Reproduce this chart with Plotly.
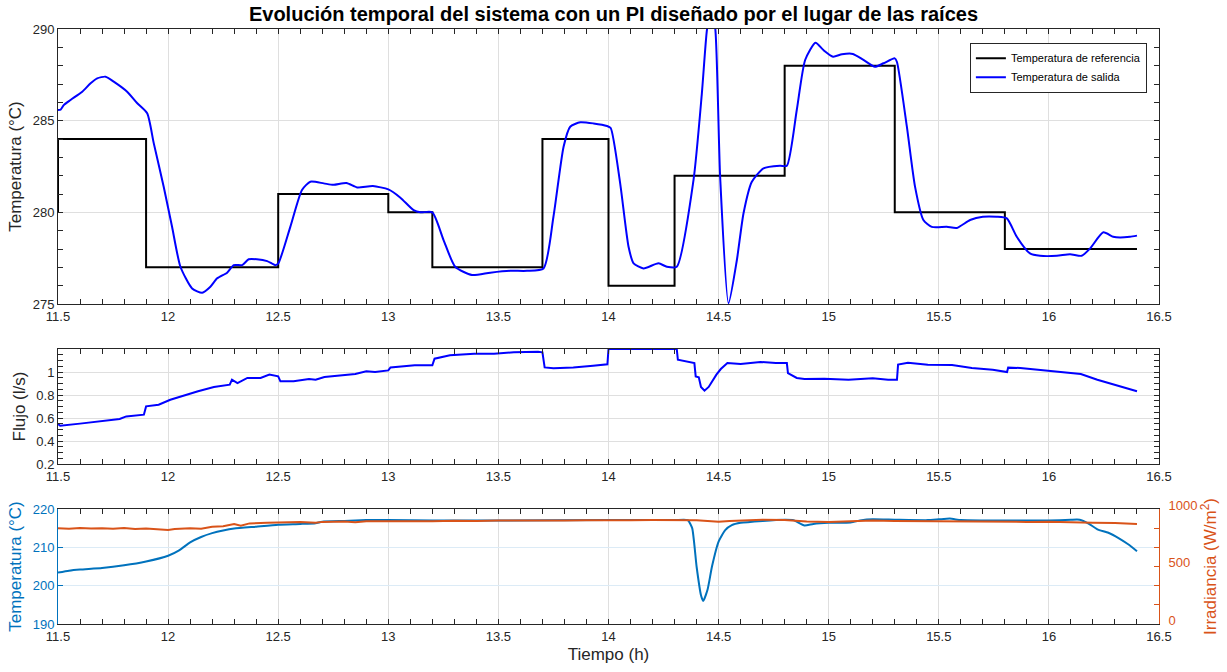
import plotly.graph_objects as go
from plotly.subplots import make_subplots

# ---------------- data ----------------
# Reference temperature (step changes)
ref_t = [11.5, 11.5, 11.9, 12.5, 13.0, 13.2, 13.7, 14.0, 14.3, 14.8, 15.3, 15.8, 16.4]
ref_T = [280, 284, 277, 281, 280, 277, 284, 276, 282, 288, 280, 278, 278]

# Output temperature
out_t = [11.5, 11.512, 11.526, 11.557, 11.61, 11.648, 11.678, 11.716, 11.753, 11.814, 11.86, 11.905,
         11.935, 11.98, 12.018, 12.056, 12.109, 12.155, 12.192, 12.223, 12.268, 12.298, 12.336, 12.366,
         12.403, 12.45, 12.487, 12.5, 12.555, 12.608, 12.646, 12.707, 12.75, 12.81, 12.858, 12.93,
         13.0, 13.055, 13.115, 13.146, 13.2, 13.251, 13.304, 13.38, 13.463, 13.554, 13.63, 13.705,
         13.75, 13.796, 13.826, 13.872, 13.932, 13.993, 14.01, 14.053, 14.091, 14.114, 14.159, 14.227,
         14.265, 14.31, 14.386, 14.424, 14.447, 14.466, 14.485, 14.507, 14.545, 14.583, 14.613, 14.651,
         14.704, 14.78, 14.81, 14.855, 14.893, 14.94, 14.976, 15.02, 15.06, 15.11, 15.158, 15.21,
         15.249, 15.3, 15.31, 15.355, 15.392, 15.43, 15.468, 15.536, 15.582, 15.642, 15.7, 15.763,
         15.809, 15.854, 15.914, 15.96, 16.036, 16.096, 16.149, 16.187, 16.247, 16.292, 16.323, 16.368, 16.4]
out_T = [285.58, 285.6, 285.85, 286.13, 286.58, 287.04, 287.31, 287.4, 287.13, 286.58, 285.95, 285.4,
         283.76, 281.4, 279.21, 277.03, 275.85, 275.61, 275.94, 276.4, 276.71, 277.12, 277.12, 277.44,
         277.44, 277.34, 277.12, 277.2, 279.21, 281.22, 281.67, 281.58, 281.5, 281.6, 281.36, 281.43,
         281.25, 280.8, 280.12, 280.0, 280.0, 278.49, 277.03, 276.58, 276.71, 276.81, 276.81, 276.94,
         279.76, 283.58, 284.67, 284.91, 284.85, 284.71, 284.6, 281.58, 278.12, 277.22, 276.94, 277.22,
         277.03, 277.03, 281.76, 286.49, 289.95, 291.2, 290.0, 281.94, 275.04, 277.4, 279.94, 281.67,
         282.4, 282.54, 282.54, 285.58, 288.31, 289.25, 288.85, 288.49, 288.62, 288.64, 288.31, 287.94,
         288.13, 288.4, 288.2, 284.67, 281.4, 279.58, 279.21, 279.21, 279.15, 279.58, 279.76, 279.76,
         279.67, 278.67, 277.76, 277.63, 277.63, 277.72, 277.63, 278.03, 278.91, 278.67, 278.63, 278.67, 278.73]

# Flow
flow_t = [11.5, 11.51, 11.6, 11.69, 11.78, 11.81, 11.89, 11.9, 11.957, 12.01, 12.08, 12.136, 12.208,
          12.28, 12.29, 12.315, 12.36, 12.42, 12.46, 12.5, 12.51, 12.57, 12.64, 12.67, 12.71, 12.8,
          12.85, 12.9, 12.94, 13.0, 13.01, 13.12, 13.2, 13.21, 13.28, 13.39, 13.48, 13.57, 13.68,
          13.70, 13.71, 13.75, 13.84, 13.93, 13.995, 14.0, 14.31, 14.315, 14.37, 14.39, 14.396, 14.41,
          14.42, 14.436, 14.455, 14.47, 14.49, 14.51, 14.54, 14.6, 14.69, 14.76, 14.81, 14.815,
          14.855, 14.89, 14.98, 15.09, 15.2, 15.27, 15.31, 15.315, 15.36, 15.45, 15.56, 15.65,
          15.745, 15.81, 15.815, 15.87, 16.02, 16.07, 16.145, 16.22, 16.29, 16.4]
flow_q = [0.548, 0.533, 0.551, 0.571, 0.591, 0.614, 0.629, 0.701, 0.716, 0.759, 0.803, 0.832, 0.870,
          0.89, 0.933, 0.904, 0.948, 0.948, 0.977, 0.962, 0.919, 0.919, 0.939, 0.933, 0.957, 0.977,
          0.983, 1.006, 1.0, 1.014, 1.04, 1.058, 1.058, 1.116, 1.145, 1.159, 1.159, 1.171, 1.177,
          1.171, 1.04, 1.032, 1.04, 1.055, 1.067, 1.2, 1.2, 1.107, 1.084, 1.078, 0.962, 0.954,
          0.87, 0.838, 0.87, 0.919, 0.977, 1.026, 1.078, 1.07, 1.087, 1.078, 1.078, 0.991,
          0.948, 0.939, 0.942, 0.933, 0.945, 0.933, 0.933, 1.064, 1.081, 1.064, 1.061, 1.035,
          1.02, 1.0, 1.038, 1.035, 1.006, 0.991, 0.983, 0.933, 0.896, 0.832]

# Collector outlet temperature (left axis, bottom panel)
temp_t = [11.5, 11.55, 11.6, 11.7, 11.8, 11.9, 12.0, 12.05, 12.1, 12.15, 12.2, 12.25, 12.3, 12.4, 12.5,
          12.6, 12.67, 12.7, 12.8, 12.9, 13.0, 13.2, 13.5, 14.0, 14.3, 14.36, 14.38, 14.4, 14.42,
          14.43, 14.45, 14.47, 14.5, 14.53, 14.56, 14.6, 14.7, 14.8, 14.84, 14.89, 14.93, 15.0, 15.1,
          15.15, 15.2, 15.3, 15.45, 15.5, 15.55, 15.6, 15.7, 15.9, 16.0, 16.1, 16.14, 16.18, 16.22,
          16.27, 16.32, 16.36, 16.4]
temp_v = [203.4, 203.9, 204.2, 204.6, 205.3, 206.3, 207.8, 209.2, 211.3, 212.7, 213.7, 214.4, 214.9,
          215.4, 215.9, 216.1, 216.3, 216.7, 216.9, 217.1, 217.1, 217.0, 217.0, 217.1, 217.1, 217.1,
          215.0, 205.0, 197.5, 196.0, 199.0, 205.0, 211.5, 214.5, 215.8, 216.4, 216.9, 217.2, 217.1,
          215.7, 216.1, 216.4, 216.5, 217.1, 217.3, 217.2, 217.1, 217.3, 217.5, 217.1, 217.0, 217.0,
          217.0, 217.2, 217.2, 216.2, 214.7, 213.8, 212.3, 210.8, 209.0]

# Irradiance (right axis, bottom panel)
irr_t = [11.5, 11.55, 11.6, 11.65, 11.7, 11.75, 11.8, 11.85, 11.9, 11.95, 12.0, 12.03, 12.1, 12.15,
         12.2, 12.25, 12.3, 12.33, 12.37, 12.45, 12.5, 12.55, 12.6, 12.67, 12.7, 12.8, 12.85, 12.9,
         13.0, 13.1, 13.2, 13.3, 13.4, 13.5, 13.6, 13.7, 13.8, 13.9, 14.0, 14.1, 14.2, 14.3, 14.4,
         14.45, 14.5, 14.55, 14.6, 14.7, 14.8, 14.85, 14.9, 15.0, 15.05, 15.1, 15.2, 15.3, 15.4, 15.5,
         15.6, 15.7, 15.8, 15.9, 16.0, 16.1, 16.2, 16.3, 16.35, 16.4]
irr_v = [832, 828, 834, 830, 833, 829, 835, 826, 830, 825, 818, 826, 832, 828,
         845, 850, 870, 855, 875, 880, 882, 885, 886, 880, 888, 892, 884, 893,
         892, 896, 894, 897, 895, 900, 898, 896, 900, 902, 905, 903, 904, 905, 902,
         895, 890, 895, 898, 906, 905, 898, 892, 888, 892, 895, 900, 895, 893, 890,
         893, 890, 890, 888, 890, 883, 880, 878, 872, 870]

x_ticks = [11.5, 12, 12.5, 13, 13.5, 14, 14.5, 15, 15.5, 16, 16.5]
x_tick_text = ["11.5", "12", "12.5", "13", "13.5", "14", "14.5", "15", "15.5", "16", "16.5"]
top_y_ticks = [275, 280, 285, 290]
mid_y_ticks = [0.2, 0.4, 0.6, 0.8, 1.0]
mid_y_text = ["0.2", "0.4", "0.6", "0.8", "1"]
bot_left_ticks = [190, 200, 210, 220]
bot_right_ticks = [0, 500, 1000]

# ---------------- style ----------------
DARK = "#262626"
GRID = "#dfdfdf"
MBLUE = "#0072BD"
MORANGE = "#D95319"
FONT = "Liberation Sans, Arial, Helvetica, sans-serif"

fig = make_subplots(rows=3, cols=1, specs=[[{}], [{}], [{"secondary_y": True}]])

fig.add_trace(go.Scatter(x=ref_t, y=ref_T, mode="lines", line=dict(color="black", width=2, shape="hv"),
                         name="Temperatura de referencia"), row=1, col=1)
fig.add_trace(go.Scatter(x=out_t, y=out_T, mode="lines",
                         line=dict(color="#0000FF", width=2, shape="spline", smoothing=0.6),
                         name="Temperatura de salida"), row=1, col=1)
fig.add_trace(go.Scatter(x=flow_t, y=flow_q, mode="lines", line=dict(color="#0000FF", width=2),
                         showlegend=False), row=2, col=1)
fig.add_trace(go.Scatter(x=temp_t, y=temp_v, mode="lines",
                         line=dict(color=MBLUE, width=2, shape="spline", smoothing=0.5),
                         showlegend=False), row=3, col=1, secondary_y=False)
fig.add_trace(go.Scatter(x=irr_t, y=irr_v, mode="lines", line=dict(color=MORANGE, width=2),
                         showlegend=False), row=3, col=1, secondary_y=True)

H = 595.0
dom_bot = [0, 115 / H]
dom_mid = [160 / H, 275 / H]
dom_top = [320 / H, 1]

xcommon = dict(range=[11.5, 16.5], tickvals=x_ticks, ticktext=x_tick_text, showline=True,
               linecolor=DARK, linewidth=1, mirror="ticks", ticks="inside", ticklen=5,
               tickcolor=DARK, tickwidth=1, showgrid=True, gridcolor=GRID, gridwidth=1,
               zeroline=False, tickfont=dict(family=FONT, size=13, color=DARK),
               minor=dict(dtick=0.1, tick0=11.5, ticks="inside", ticklen=5, tickcolor=DARK,
                          showgrid=False))

fig.update_xaxes(**xcommon)
fig.update_layout(
    xaxis=dict(domain=[0, 1]),
    xaxis2=dict(domain=[0, 1]),
    xaxis3=dict(domain=[0, 1], title=dict(text="Tiempo (h)", font=dict(family=FONT, size=17, color=DARK),
                                          standoff=5)),
)
fig.update_layout(
    yaxis=dict(domain=dom_top, range=[275, 290], tickvals=top_y_ticks, showline=True, linecolor=DARK,
               mirror="ticks", ticks="inside", ticklen=5, tickcolor=DARK, showgrid=True, gridcolor=GRID,
               zeroline=False, tickfont=dict(family=FONT, size=13, color=DARK),
               minor=dict(dtick=1, tick0=275, ticks="inside", ticklen=5, tickcolor=DARK, showgrid=False),
               title=dict(text="Temperatura (°C)", font=dict(family=FONT, size=17, color=DARK), standoff=6)),
    yaxis2=dict(domain=dom_mid, range=[0.2, 1.2], tickvals=mid_y_ticks, ticktext=mid_y_text, showline=True,
                linecolor=DARK, mirror="ticks", ticks="inside", ticklen=5, tickcolor=DARK, showgrid=True,
                gridcolor=GRID, zeroline=False, tickfont=dict(family=FONT, size=13, color=DARK),
                minor=dict(dtick=0.05, tick0=0.2, ticks="inside", ticklen=5, tickcolor=DARK, showgrid=False),
                title=dict(text="Flujo (l/s)", font=dict(family=FONT, size=17, color=DARK), standoff=6)),
    yaxis3=dict(domain=dom_bot, range=[190, 220], tickvals=bot_left_ticks, showline=True, linecolor=MBLUE,
                mirror=False, ticks="inside", ticklen=5, tickcolor=MBLUE, showgrid=True, gridcolor="#dcebf6",
                zeroline=False, tickfont=dict(family=FONT, size=13, color=MBLUE),
                title=dict(text="Temperatura (°C)", font=dict(family=FONT, size=17, color=MBLUE), standoff=6)),
    yaxis4=dict(domain=dom_bot, range=[0, 1000], tickvals=bot_right_ticks, showline=True, linecolor=MORANGE,
                side="right", ticks="inside", ticklen=5, tickcolor=MORANGE, showgrid=False, zeroline=False,
                tickfont=dict(family=FONT, size=13, color=MORANGE), ticklabelstandoff=6, ticklabelshift=-4,
                minor=dict(dtick=1000 / 6, tick0=0, ticks="inside", ticklen=5, tickcolor=MORANGE, showgrid=False),
                title=dict(text="Irradiancia (W/m<sup>2</sup>)", font=dict(family=FONT, size=17, color=MORANGE),
                           standoff=2)),
)

fig.update_layout(
    width=1227, height=672,
    margin=dict(l=58, r=68, t=29, b=48),
    paper_bgcolor="white", plot_bgcolor="white",
    font=dict(family=FONT, color=DARK),
    title=dict(text="<b>Evolución temporal del sistema con un PI diseñado por el lugar de las raíces</b>",
               x=0.5, xanchor="center", xref="container", y=0.979, yref="container", yanchor="middle",
               font=dict(family=FONT, size=20, color="black")),
    legend=dict(x=0.989, xanchor="right", y=0.977, yanchor="top", bgcolor="white", bordercolor=DARK,
                borderwidth=1, font=dict(family=FONT, size=11, color="black"), tracegroupgap=0,
                itemwidth=30),
    showlegend=True,
)

fig.write_html("out.html")
